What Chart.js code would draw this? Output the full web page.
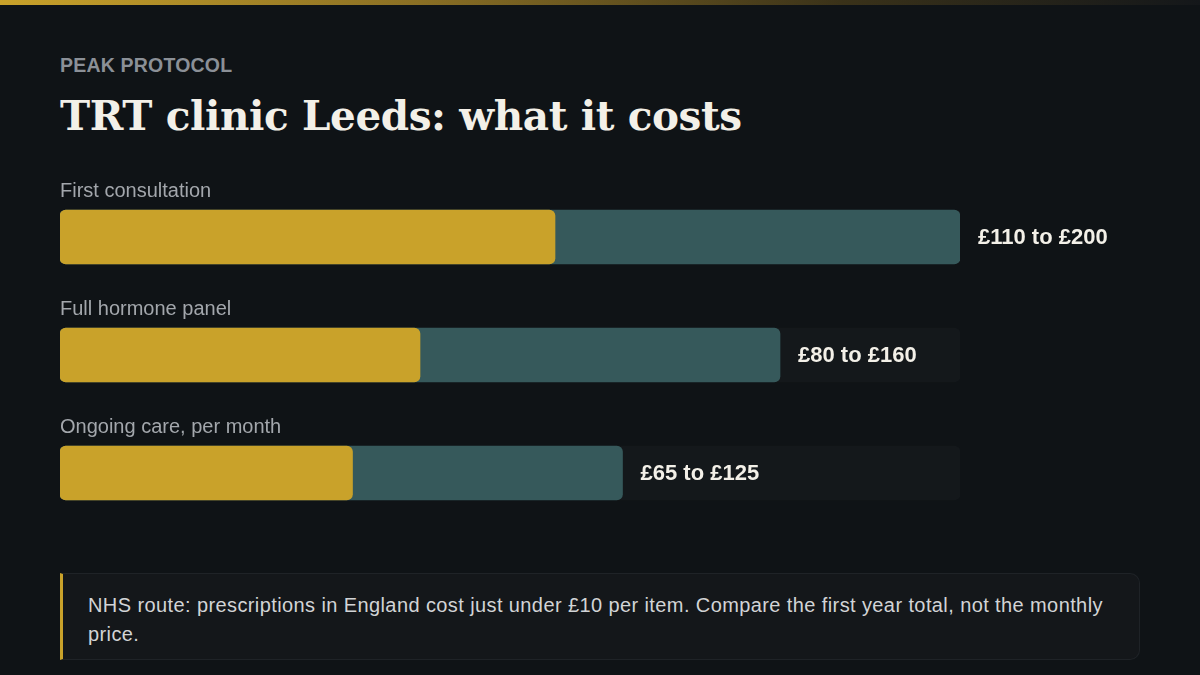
<!DOCTYPE html>
<html>
<head>
<meta charset="utf-8">
<script src="https://cdn.jsdelivr.net/npm/chart.js@4.4.1/dist/chart.umd.min.js"></script>
<style>
  html, body { margin: 0; padding: 0; }
  body { width: 1200px; height: 675px; background: #0f1316; position: relative; overflow: hidden; font-family: "Liberation Sans", Arial, sans-serif; }
  .topbar { position: absolute; left: 0; top: 0; width: 1200px; height: 5px; background: linear-gradient(90deg, #c9a22a 0%, #8a6f24 35%, #3a3219 70%, #14171a 100%); }
  .kicker { position: absolute; left: 60px; top: 54px; font-size: 19.5px; font-weight: 700; color: #8b9097; letter-spacing: 0.2px; }
  .title { position: absolute; left: 60px; top: 92px; font-family: "DejaVu Serif", Georgia, serif; font-weight: 700; font-size: 40.5px; color: #f3f0e8; white-space: nowrap; letter-spacing: -0.4px; }
  #wrap { position: absolute; left: 0; top: 160px; width: 1200px; height: 372px; }
  .note { position: absolute; left: 60px; top: 573px; width: 1080px; height: 87px; box-sizing: border-box; background: #14171a; border: 1px solid #1f2327; border-left: 3px solid #c9a22a; border-radius: 0 10px 10px 0; padding: 17px 20px 0 25px; font-size: 20px; letter-spacing: 0.4px; line-height: 29px; color: #d2d4d6; }
</style>
</head>
<body>
<div class="topbar"></div>
<div class="kicker">PEAK PROTOCOL</div>
<div class="title">TRT clinic Leeds: what it costs</div>
<div id="wrap"><canvas id="c"></canvas></div>
<div class="note">NHS route: prescriptions in England cost just under £10 per item. Compare the first year total, not the monthly price.</div>
<script>
const categories = ["First consultation", "Full hormone panel", "Ongoing care, per month"];
const lowValues = [110, 80, 65];
const highValues = [200, 160, 125];
const scaleMax = 200;
const trackValues = categories.map(() => scaleMax);
const valueLabels = ["£110 to £200", "£80 to £160", "£65 to £125"];

const labelPlugin = {
  id: 'labels',
  afterDatasetsDraw(chart) {
    const ctx = chart.ctx;
    const x = chart.scales.x;
    const y = chart.scales.y;
    ctx.save();
    ctx.textBaseline = 'middle';
    categories.forEach((cat, i) => {
      const cy = y.getPixelForValue(i);
      ctx.font = '20px "Liberation Sans", Arial, sans-serif';
      ctx.fillStyle = '#a3a7ac';
      ctx.textAlign = 'left';
      ctx.fillText(cat, x.getPixelForValue(0), cy - 46);
      ctx.font = 'bold 22px "Liberation Sans", Arial, sans-serif';
      ctx.fillStyle = '#f3f0e8';
      ctx.fillText(valueLabels[i], x.getPixelForValue(highValues[i]) + 18, cy + 1);
    });
    ctx.restore();
  }
};

new Chart(document.getElementById('c'), {
  type: 'bar',
  data: {
    labels: categories,
    datasets: [
      { label: 'Low', data: lowValues, backgroundColor: '#c9a22a', borderRadius: 6, borderSkipped: false, grouped: false, barThickness: 54 },
      { label: 'High', data: highValues, backgroundColor: '#36595b', borderRadius: 6, borderSkipped: false, grouped: false, barThickness: 54 },
      { label: 'Track', data: trackValues, backgroundColor: '#14181b', borderRadius: 6, borderSkipped: false, grouped: false, barThickness: 54 }
    ]
  },
  options: {
    indexAxis: 'y',
    responsive: true,
    maintainAspectRatio: false,
    animation: false,
    layout: { padding: { left: 60, right: 240, top: 18, bottom: 0 } },
    plugins: { legend: { display: false }, tooltip: { enabled: false } },
    scales: {
      x: { display: false, min: 0, max: scaleMax },
      y: { display: false }
    }
  },
  plugins: [labelPlugin]
});
</script>
</body>
</html>
